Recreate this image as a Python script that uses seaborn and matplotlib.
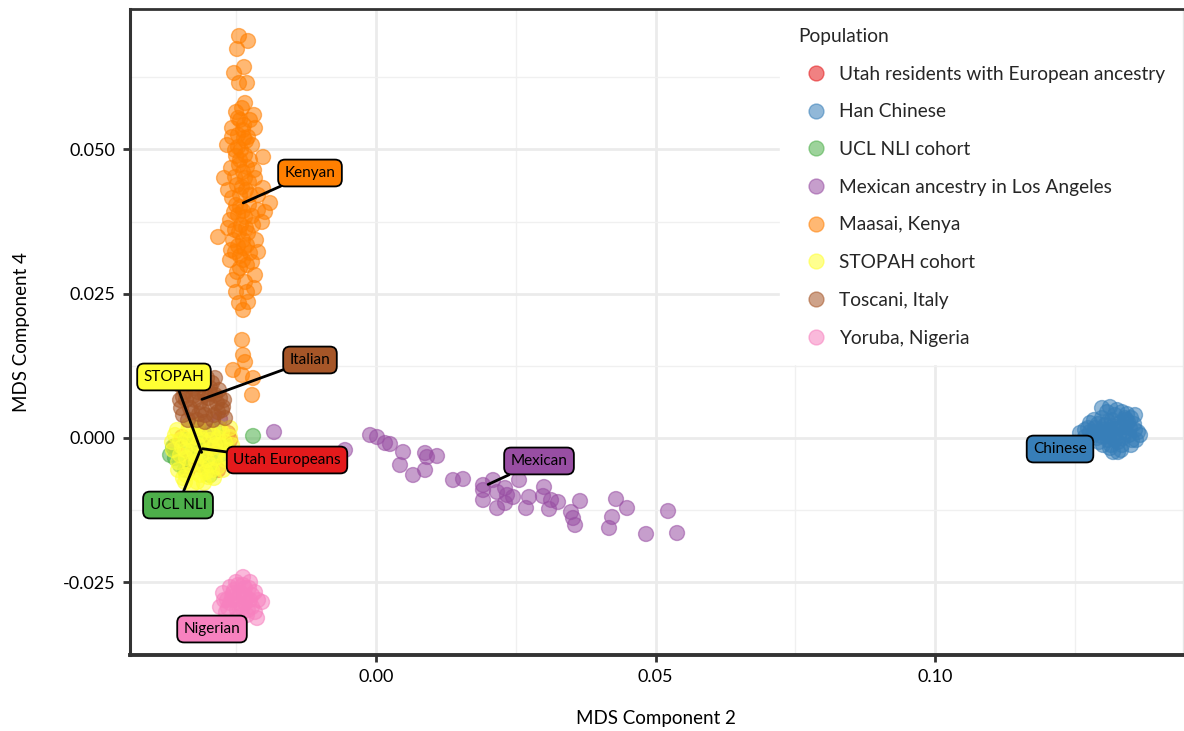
import numpy as np
import pandas as pd
import matplotlib
matplotlib.use("Agg")
import matplotlib.pyplot as plt
import seaborn as sns
from matplotlib.ticker import FixedLocator, FixedFormatter

# ---------------- data ----------------
populations = ["Utah residents with European ancestry", "Han Chinese", "UCL NLI cohort",
               "Mexican ancestry in Los Angeles", "Maasai, Kenya", "STOPAH cohort",
               "Toscani, Italy", "Yoruba, Nigeria"]
palette = ["#E41A1C", "#377EB8", "#4DAF4A", "#984EA3", "#FF7F00", "#FFFF33", "#A65628", "#F781BF"]
short_labels = ["Utah Europeans", "Chinese", "UCL NLI", "Mexican", "Kenyan", "STOPAH", "Italian", "Nigerian"]

utah_x = [-0.03596, -0.02648, -0.03470, -0.02826, -0.03238, -0.03059, -0.02970, -0.03327,
          -0.03148, -0.02755, -0.03506, -0.03148, -0.02880, -0.03363, -0.02612]
utah_y = [-0.00139, 0.00087, 0.00017, -0.00554, -0.00121, 0.00052, -0.00208, -0.00381,
          -0.00035, -0.00121, -0.00294, -0.00468, -0.00035, -0.00554, -0.00035]

han_x = [0.12594, 0.12987, 0.13130, 0.13345, 0.13578, 0.13667, 0.13524, 0.13274, 0.13130, 0.12773,
         0.12862, 0.12952, 0.13041, 0.13130, 0.13220, 0.13309, 0.13166, 0.12987, 0.13399, 0.13095,
         0.13274, 0.12898, 0.13452, 0.13220, 0.13345, 0.13059, 0.13184, 0.12773, 0.13488, 0.13005,
         0.12683, 0.13399, 0.13578,
         0.12737, 0.12826, 0.12916, 0.13023, 0.13113, 0.13202, 0.13292, 0.13381, 0.13470, 0.13560,
         0.13631, 0.13077, 0.13256, 0.13435, 0.12934, 0.13148, 0.13327, 0.13506, 0.12845, 0.13220,
         0.13095, 0.13363, 0.12970, 0.13596, 0.12683, 0.13184, 0.13417, 0.12880, 0.13274, 0.13506]
han_y = [0.00087, 0.00520, 0.00537, 0.00450, 0.00398, 0.00052, -0.00035, -0.00243, -0.00173, 0.00260,
         0.00173, 0.00104, 0.00225, 0.00139, 0.00052, 0.00173, 0.00312, 0.00346, 0.00104, -0.00035,
         -0.00069, 0.00000, 0.00277, 0.00398, -0.00121, 0.00069, 0.00208, 0.00104, 0.00173, -0.00121,
         0.00017, 0.00346, 0.00139,
         0.00173, 0.00052, 0.00243, 0.00139, 0.00035, 0.00156, 0.00035, 0.00191, 0.00052, 0.00243,
         0.00104, 0.00450, 0.00485, 0.00416, -0.00069, -0.00121, -0.00208, -0.00121, 0.00312, -0.00035,
         0.00277, 0.00000, 0.00035, -0.00035, 0.00139, -0.00243, 0.00312, 0.00104, 0.00243, 0.00346]

ucl_x = [-0.02200, -0.03596, -0.03631, -0.03417, -0.02970, -0.02880, -0.03238, -0.03148, -0.03059,
         -0.03327, -0.02791, -0.03506, -0.03184, -0.02934, -0.03417, -0.03059, -0.03685, -0.02683]
ucl_y = [0.00035, -0.00346, -0.00156, -0.00554, -0.00641, 0.00139, -0.00035, -0.00208, -0.00035,
         -0.00294, -0.00294, -0.00468, 0.00104, -0.00416, -0.00035, -0.00468, -0.00294, -0.00156]

mex_x = [-0.00107, 0.00018, 0.00161, 0.00250, 0.00483, 0.00877, 0.01091, 0.00912, 0.00429, 0.00877,
         0.00662, 0.01377, 0.01556, 0.01914, 0.01914, 0.02093, 0.02558, 0.01914, 0.02165, 0.02308,
         0.02343, 0.02451, 0.02165, 0.02308, 0.02737, 0.02683, 0.03005, 0.02987, 0.03131, 0.03256,
         0.03095, 0.03649, 0.03488, 0.03524, 0.03560, 0.04293, 0.04490, 0.04222, 0.04168, 0.05224,
         0.04830, 0.05385, -0.02791, -0.01825, -0.00555, -0.02970]
mex_y = [0.00052, 0.00017, -0.00087, -0.00104, -0.00243, -0.00260, -0.00312, -0.00329, -0.00468, -0.00554,
         -0.00641, -0.00728, -0.00710, -0.00814, -0.00901, -0.00728, -0.00728, -0.01074, -0.00935, -0.00866,
         -0.00987, -0.01022, -0.01213, -0.01126, -0.01022, -0.01213, -0.00849, -0.01005, -0.01074, -0.01109,
         -0.01230, -0.01091, -0.01282, -0.01386, -0.01507, -0.01057, -0.01213, -0.01368, -0.01559, -0.01265,
         -0.01663, -0.01646, 0.00329, 0.00104, -0.00208, 0.00104]

maasai_x = [-0.02451, -0.02290, -0.02487, -0.02361, -0.02540, -0.02451, -0.02308, -0.02343, -0.02397, -0.02182,
            -0.02469, -0.02165, -0.02379, -0.02576, -0.02290, -0.02665, -0.02469, -0.02021, -0.02433, -0.02308,
            -0.02719, -0.02522, -0.02165, -0.02397, -0.02021, -0.02576, -0.02254, -0.01896, -0.02433, -0.02111,
            -0.01986, -0.02612, -0.02343, -0.02039, -0.02826, -0.02522, -0.02290, -0.02558, -0.02379, -0.02522,
            -0.02254, -0.02111, -0.02612, -0.02379, -0.02433, -0.02165, -0.02558, -0.02308, -0.02451, -0.02290,
            -0.02379, -0.02397, -0.02379, -0.02343, -0.02558, -0.02397, -0.02200, -0.02218,
            -0.02433, -0.02361, -0.02469, -0.02326, -0.02415, -0.02504, -0.02343, -0.02451, -0.02379, -0.02487,
            -0.02326, -0.02433, -0.02504, -0.02272, -0.02379, -0.02469, -0.02218, -0.02415, -0.02326, -0.02469,
            -0.02361, -0.02433, -0.02308,
            -0.02504, -0.02254, -0.02576, -0.02218, -0.02522, -0.02254, -0.02594, -0.02182, -0.02343, -0.02648,
            -0.02111, -0.02540, -0.02200, -0.02648, -0.02147, -0.02308, -0.02594, -0.02218, -0.02487, -0.02343,
            -0.02504, -0.02182, -0.02361, -0.02272, -0.02451]
maasai_y = [0.06963, 0.06877, 0.06738, 0.06426, 0.06323, 0.06149, 0.06149, 0.05803, 0.05716, 0.05595,
            0.05543, 0.05370, 0.05335, 0.05214, 0.05214, 0.05075, 0.05041, 0.04868, 0.04816, 0.04694,
            0.04504, 0.04521, 0.04504, 0.04348, 0.04331, 0.04157, 0.04209, 0.04071, 0.04001, 0.03949,
            0.03915, 0.03776, 0.03828, 0.03742, 0.03482, 0.03603, 0.03551, 0.03430, 0.03430, 0.03222,
            0.03205, 0.03222, 0.03083, 0.03083, 0.02945, 0.02824, 0.02737, 0.02529, 0.02338, 0.02356,
            0.02217, 0.01698, 0.01438, 0.01316, 0.01178, 0.01091, 0.01039, 0.00745,
            0.05508, 0.05422, 0.05249, 0.05145, 0.04989, 0.04885, 0.04902, 0.04729, 0.04608, 0.04382,
            0.04296, 0.04209, 0.04036, 0.04036, 0.03932, 0.03863, 0.03846, 0.03690, 0.03638, 0.03326,
            0.03291, 0.03153, 0.02997,
            0.05647, 0.05508, 0.05370, 0.05075, 0.04989, 0.04816, 0.04677, 0.04642, 0.04504, 0.04296,
            0.04209, 0.03915, 0.03690, 0.03638, 0.03430, 0.03343, 0.03257, 0.03049, 0.02876, 0.02702,
            0.02529, 0.02598, 0.05197, 0.04435, 0.03568]

stopah_x = [-0.03560, -0.03202, -0.02612, -0.02648, -0.02826, -0.03202, -0.03453, -0.03631, -0.03005,
            -0.03327, -0.03148, -0.02970, -0.02791, -0.03417, -0.03238, -0.03059, -0.02880, -0.03327,
            -0.03113, -0.02934, -0.03506, -0.03184, -0.03005, -0.02755, -0.03363, -0.03542, -0.02701,
            -0.03148, -0.03274, -0.02934, -0.02826, -0.03399,
            -0.03596, -0.03470, -0.03381, -0.03274, -0.03095, -0.02916, -0.02701, -0.02576, -0.03542, -0.03399,
            -0.03220, -0.03023, -0.02844, -0.02737, -0.03292, -0.03077, -0.02898, -0.02665, -0.03506, -0.02970,
            -0.03166, -0.03345, -0.02809, -0.03649, -0.02612, -0.03417, -0.03131, -0.03238, -0.02880, -0.03041]
stopah_y = [0.00139, 0.00225, 0.00017, -0.00208, -0.00502, -0.00762, -0.00693, -0.00208, -0.00676,
            -0.00035, 0.00052, -0.00035, -0.00121, -0.00208, -0.00294, -0.00243, -0.00346, -0.00468,
            -0.00520, -0.00173, -0.00035, -0.00121, 0.00139, 0.00104, 0.00139, -0.00416, -0.00381,
            -0.00641, -0.00589, -0.00554, 0.00000, -0.00346,
            0.00052, -0.00156, 0.00017, -0.00208, -0.00035, 0.00052, -0.00069, -0.00121, -0.00554, -0.00641,
            -0.00416, -0.00381, -0.00243, -0.00554, -0.00814, -0.00779, -0.00693, -0.00294, -0.00294, -0.00468,
            0.00173, 0.00225, 0.00173, -0.00069, 0.00173, -0.00762, -0.00312, 0.00017, -0.00121, -0.00589]

toscani_x = [-0.03453, -0.03506, -0.03363, -0.02880, -0.02791, -0.02737, -0.02916, -0.03202, -0.03148,
             -0.03059, -0.03238, -0.02970, -0.03327, -0.03113, -0.03417, -0.02970, -0.02880, -0.03184,
             -0.03292, -0.03059, -0.02826, -0.03363, -0.03023, -0.03506, -0.02701,
             -0.03399, -0.03256, -0.03095, -0.02934, -0.02809, -0.02719, -0.03005, -0.03148, -0.03292, -0.03488,
             -0.03220, -0.02898, -0.03399, -0.02755, -0.03059, -0.03274, -0.02844, -0.02970, -0.03166, -0.03453]
toscani_y = [0.00398, 0.00658, 0.00953, 0.01039, 0.00693, 0.00537, 0.00312, 0.00312, 0.00918,
             0.00745, 0.00658, 0.00572, 0.00520, 0.00485, 0.00797, 0.00866, 0.00745, 0.00797,
             0.01005, 0.00398, 0.00450, 0.00312, 0.01039, 0.00918, 0.00346,
             0.00658, 0.00866, 0.01005, 0.00953, 0.00831, 0.00658, 0.00693, 0.00624, 0.00450, 0.00520,
             0.01091, 0.00398, 0.00918, 0.00485, 0.00277, 0.00728, 0.00606, 0.00780, 0.00416, 0.00710]

yoruba_x = [-0.02379, -0.02254, -0.02612, -0.02165, -0.02039, -0.02737, -0.02791, -0.02129, -0.02308,
            -0.02522, -0.02433, -0.02343, -0.02487, -0.02612, -0.02254, -0.02397, -0.02290, -0.02558,
            -0.02665, -0.02218, -0.02343, -0.02469, -0.02683,
            -0.02504, -0.02361, -0.02576, -0.02218, -0.02451, -0.02308, -0.02648, -0.02165, -0.02415,
            -0.02540, -0.02272, -0.02111, -0.02719, -0.02379, -0.02487]
yoruba_y = [-0.02408, -0.02494, -0.02581, -0.02668, -0.02841, -0.02685, -0.02927, -0.03118, -0.03066,
            -0.02806, -0.02685, -0.02858, -0.02979, -0.02858, -0.02806, -0.02945, -0.02979, -0.02685,
            -0.02806, -0.02927, -0.02598, -0.02546, -0.03014,
            -0.02494, -0.02720, -0.02754, -0.02720, -0.02858, -0.02772, -0.02945, -0.03014, -0.03066,
            -0.02633, -0.02598, -0.02806, -0.02806, -0.02546, -0.03118]

xs = [utah_x, han_x, ucl_x, mex_x, maasai_x, stopah_x, toscani_x, yoruba_x]
ys = [utah_y, han_y, ucl_y, mex_y, maasai_y, stopah_y, toscani_y, yoruba_y]

# label box centres (layout, data coordinates)
label_pos = {
    "Utah Europeans": (-0.01592, -0.00381),
    "Chinese": (0.12236, -0.00191),
    "UCL NLI": (-0.03542, -0.01161),
    "Mexican": (0.02916, -0.00398),
    "Kenyan": (-0.01181, 0.04590),
    "STOPAH": (-0.03614, 0.01057),
    "Italian": (-0.01181, 0.01351),
    "Nigerian": (-0.02934, -0.03309),
}
no_segment = {"Chinese", "Nigerian"}

frames = [pd.DataFrame({"MDS2": x, "MDS4": y, "Population": p}) for x, y, p in zip(xs, ys, populations)]
df = pd.concat(frames, ignore_index=True)

# ---------------- style ----------------
sns.set_theme(style="white")
plt.rcParams["font.family"] = ["Lato", "DejaVu Sans"]
plt.rcParams["axes.unicode_minus"] = False

fig = plt.figure(figsize=(11.84, 7.31), dpi=100)
ax = fig.add_axes([129.5 / 1184, 76 / 731, (1183 - 129.5) / 1184, (655 - 9) / 731])

sns.scatterplot(data=df, x="MDS2", y="MDS4", hue="Population", hue_order=populations,
                palette=palette, s=115, alpha=0.55, edgecolor="face", linewidth=1.0, ax=ax, zorder=3)

ax.set_xlim(-0.04410, 0.14436)
ax.set_ylim(-0.03759, 0.07431)

ax.xaxis.set_major_locator(FixedLocator([0.0, 0.05, 0.10]))
ax.xaxis.set_major_formatter(FixedFormatter(["0.00", "0.05", "0.10"]))
ax.yaxis.set_major_locator(FixedLocator([-0.025, 0.0, 0.025, 0.05]))
ax.yaxis.set_major_formatter(FixedFormatter(["-0.025", "0.000", "0.025", "0.050"]))
ax.xaxis.set_minor_locator(FixedLocator([-0.025, 0.025, 0.075, 0.125]))
ax.yaxis.set_minor_locator(FixedLocator([-0.0125, 0.0125, 0.0375, 0.0625]))

ax.grid(which="major", color="#EBEBEB", linewidth=2.0, zorder=0)
ax.grid(which="minor", color="#F0F0F0", linewidth=1.0, zorder=0)
ax.set_axisbelow(True)

ax.tick_params(axis="both", which="major", direction="out", length=5, width=2,
               color="#333333", labelsize=13, labelcolor="black", pad=5,
               bottom=True, left=True)
ax.tick_params(axis="both", which="minor", length=0)

for side in ["left", "bottom", "top"]:
    ax.spines[side].set_color("#333333")
    ax.spines[side].set_zorder(12)
ax.spines["left"].set_linewidth(2.2)
ax.spines["bottom"].set_linewidth(2.8)
ax.spines["top"].set_linewidth(2.0)
ax.spines["right"].set_color("#E6E6E6")
ax.spines["right"].set_linewidth(1.0)
ax.spines["right"].set_zorder(12)

ax.set_xlabel("MDS Component 2", fontsize=13.5, labelpad=18, color="black")
ax.set_ylabel("MDS Component 4", fontsize=13.5, labelpad=24, color="black")

# ---------------- labels ----------------
for x, y, p, lab, col in zip(xs, ys, populations, short_labels, palette):
    cx, cy = float(np.mean(x)), float(np.mean(y))
    lx, ly = label_pos[lab]
    arrow = None if lab in no_segment else dict(arrowstyle="-", color="black", lw=2.0,
                                               shrinkA=0, shrinkB=0)
    ax.annotate(lab, xy=(cx, cy), xytext=(lx, ly), textcoords="data",
                ha="center", va="center", fontsize=11, color="black", zorder=6,
                bbox=dict(boxstyle="round,pad=0.42,rounding_size=0.45", fc=col, ec="black", lw=1.3),
                arrowprops=arrow)

# ---------------- legend ----------------
sns.move_legend(ax, "upper right", bbox_to_anchor=(1.0, 0.998), borderaxespad=0.0,
                title="Population", fontsize=13.8, title_fontsize=13.8, frameon=True,
                framealpha=1.0, fancybox=False, edgecolor="white", facecolor="white",
                labelspacing=1.08, handlelength=1.85, handletextpad=0.3, borderpad=0.92,
                alignment="left")
leg = ax.get_legend()
leg.set_zorder(10)

fig.savefig("out.png", dpi=100)
